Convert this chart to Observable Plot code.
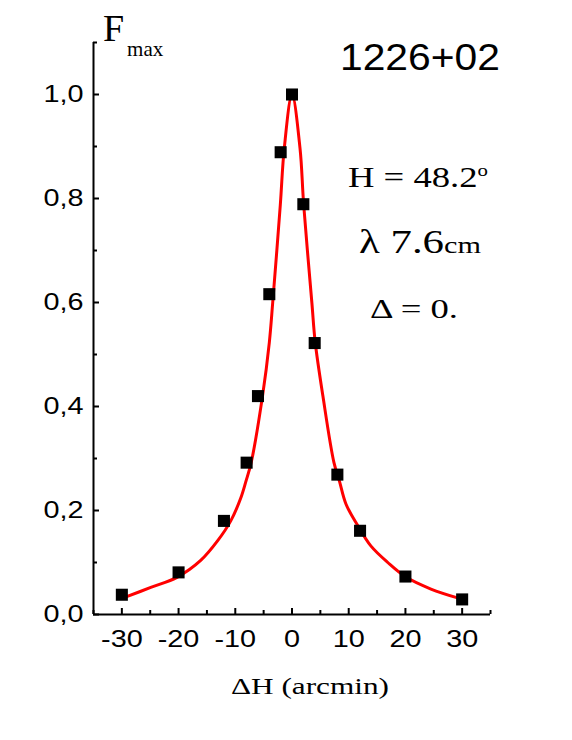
<!DOCTYPE html>
<html><head><meta charset="utf-8">
<script src="https://cdn.jsdelivr.net/npm/d3@7"></script>
<script src="https://cdn.jsdelivr.net/npm/@observablehq/plot@0.6"></script>
<style>body{margin:0;background:#fff}</style>
</head><body><div id="chart"></div>
<script>
const xDomain = [-35, 35];
const yDomain = [0, 1.1];
const xMajor = [-30, -20, -10, 0, 10, 20, 30];
const xMinor = [-35, -25, -15, -5, 5, 15, 25, 35];
const yMajor = [0, 0.2, 0.4, 0.6, 0.8, 1.0];
const yMinor = [0.1, 0.3, 0.5, 0.7, 0.9, 1.1];

const obsX = [-30, -20, -12, -8, -6, -4, -2, 0, 2, 4, 8, 12, 20, 30];
const obsF = [0.038, 0.081, 0.180, 0.292, 0.420, 0.616, 0.889, 1.0, 0.789, 0.522, 0.269, 0.161, 0.073, 0.029];

const fitX = [-29.5, -24.9, -20.2, -16.1, -13.1, -10.8, -9.0, -8.1, -7.2, -5.2, -4.0, -3.4, -2.06, -1.36, 0, 1.41, 2.06, 3.5, 4.1, 5.45, 7.4, 8.35, 9.53, 11.6, 13.9, 16.9, 20.1, 24.5, 29.5];
const fitF = [0.033, 0.052, 0.072, 0.104, 0.142, 0.18, 0.225, 0.257, 0.292, 0.42, 0.523, 0.60, 0.788, 0.897, 1.0, 0.897, 0.788, 0.60, 0.523, 0.42, 0.292, 0.257, 0.212, 0.171, 0.132, 0.10, 0.072, 0.049, 0.031];

// annotations (data coordinates)
const noteMain = ["1226+02", "H = 48.2", "λ 7.6", "Δ = 0.", "ΔH (arcmin)"];
const noteTail = ["", "o", "cm", "", ""];
const noteX = [8.55, 9.96, 11.9, 13.84, 3.26];
const noteY = [1.046, 0.821, 0.694, 0.569, -0.154];
const yTitle = "F";
const yTitleSub = "max";
const yTitleX = -33.24;
const yTitleY = 1.102;

const obs = obsX.map((x, i) => ({x, f: obsF[i]}));
const fit = fitX.map((x, i) => ({x, f: fitF[i]}));

const chart = Plot.plot({
  width: 572, height: 740,
  marginLeft: 93, marginRight: 82, marginTop: 42, marginBottom: 126,
  style: {fontFamily: "'Liberation Sans', Arial, sans-serif", fontSize: "24px", background: "#fff", color: "#000", overflow: "visible"},
  x: {domain: xDomain},
  y: {domain: yDomain},
  marks: [
    Plot.ruleX([xDomain[0]], {stroke: "#000", strokeWidth: 2}),
    Plot.ruleY([yDomain[0]], {stroke: "#000", strokeWidth: 2}),
    Plot.axisY({ticks: yMajor, tickSize: -6, tickPadding: 16, strokeWidth: 2, tickFormat: d => d.toFixed(1).replace(".", ","), label: null}),
    Plot.axisY({ticks: yMinor, tickSize: -4, strokeWidth: 2, tickFormat: () => "", label: null}),
    Plot.axisX({ticks: xMajor, tickSize: -6, tickPadding: 21, strokeWidth: 2, tickFormat: d => String(d), label: null}),
    Plot.axisX({ticks: xMinor, tickSize: -4, strokeWidth: 2, tickFormat: () => "", label: null}),
    Plot.line(fit, {x: "x", y: "f", stroke: "#ff0000", strokeWidth: 3, curve: "catmull-rom"}),
    Plot.dot(obs, {x: "x", y: "f", symbol: "square", r: 6.8, fill: "#000", stroke: "none"})
  ]
});
document.getElementById("chart").appendChild(chart);

const sx = chart.scale("x"), sy = chart.scale("y");
const svg = d3.select(chart);
svg.selectAll('g[aria-label="y-axis tick label"] text, g[aria-label="x-axis tick label"] text').each(function() {
  const t = this.getAttribute("transform") || "";
  this.setAttribute("transform", t + " scale(1.2,1)");
});

// y title F_max
const ft = svg.append("text")
  .attr("x", sx.apply(yTitleX)).attr("y", sy.apply(yTitleY))
  .attr("text-anchor", "start")
  .attr("font-family", "'Liberation Serif', 'Times New Roman', serif")
  .attr("font-size", 38).attr("fill", "#000");
ft.append("tspan").text(yTitle);
ft.append("tspan").attr("font-size", 21).attr("dx", 3).attr("dy", 15).text(yTitleSub);

const styles = [
  {family: "'Liberation Sans', Arial, sans-serif", size: 37, tail: 0, len: 160, anchor: "start"},
  {family: "'Liberation Serif', serif", size: 30, tail: 17, tailDy: -11, len: 140, anchor: "start"},
  {family: "'Liberation Serif', serif", size: 34, tail: 24, tailDy: 0, len: 122, anchor: "start"},
  {family: "'Liberation Serif', serif", size: 28, tail: 0, len: 88, anchor: "start"},
  {family: "'Liberation Serif', serif", size: 23, tail: 0, len: 158, anchor: "middle"}
];
noteMain.forEach((txt, i) => {
  const s = styles[i];
  const t = svg.append("text")
    .attr("x", sx.apply(noteX[i])).attr("y", sy.apply(noteY[i]))
    .attr("font-family", s.family).attr("font-size", s.size)
    .attr("text-anchor", s.anchor).attr("fill", "#000")
    .attr("textLength", s.len).attr("lengthAdjust", "spacingAndGlyphs");
  t.append("tspan").text(txt);
  if (noteTail[i]) t.append("tspan").attr("font-size", s.tail).attr("dy", s.tailDy).text(noteTail[i]);
});
</script>
</body></html>
